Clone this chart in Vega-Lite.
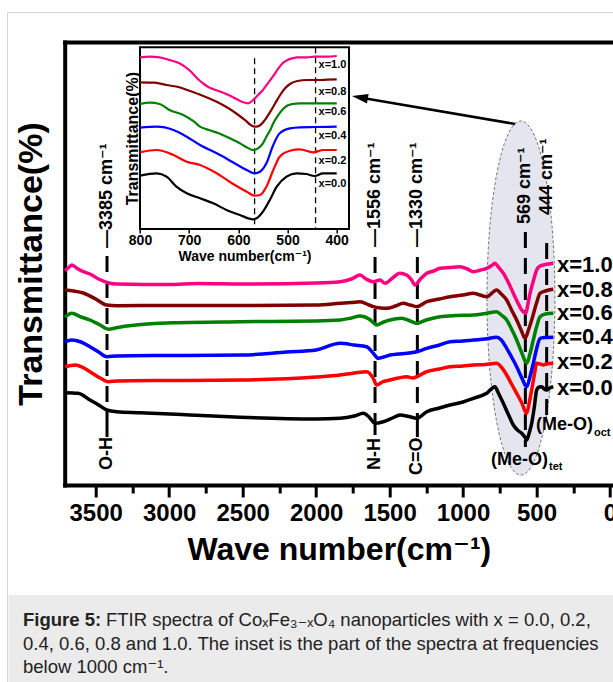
{
  "$schema": "https://vega.github.io/schema/vega-lite/v6.json",
  "width": 548.3,
  "height": 443,
  "autosize": {"type": "none"},
  "padding": {"left": 64.7, "top": 42, "right": 0, "bottom": 197},
  "background": "white",
  "config": {
    "view": {"stroke": null},
    "axis": {"grid": false, "labelFont": "Liberation Sans", "titleFont": "Liberation Sans", "labelColor": "black", "titleColor": "black", "tickColor": "black", "domainColor": "black"},
    "text": {"font": "Liberation Sans"}
  },
  "datasets": {
    "main": [
      {"s":"x=0.0","w":3709,"t":92.3},{"s":"x=0.0","w":3620,"t":91.7},{"s":"x=0.0","w":3539,"t":85},{"s":"x=0.0","w":3480,"t":80},{"s":"x=0.0","w":3425,"t":75},{"s":"x=0.0","w":3357,"t":73.3},{"s":"x=0.0","w":3199,"t":72.3},{"s":"x=0.0","w":2858,"t":70},{"s":"x=0.0","w":2518,"t":67.7},{"s":"x=0.0","w":2000,"t":66},{"s":"x=0.0","w":1837,"t":66.7},{"s":"x=0.0","w":1740,"t":69},{"s":"x=0.0","w":1679,"t":71.7},{"s":"x=0.0","w":1640,"t":68},{"s":"x=0.0","w":1599,"t":61.7},{"s":"x=0.0","w":1543,"t":63.3},{"s":"x=0.0","w":1480,"t":67},{"s":"x=0.0","w":1429,"t":70},{"s":"x=0.0","w":1370,"t":68.5},{"s":"x=0.0","w":1315,"t":66.7},{"s":"x=0.0","w":1247,"t":73.3},{"s":"x=0.0","w":1160,"t":77},{"s":"x=0.0","w":1089,"t":80},{"s":"x=0.0","w":1000,"t":83},{"s":"x=0.0","w":930,"t":86.7},{"s":"x=0.0","w":839,"t":91.7},{"s":"x=0.0","w":783,"t":98.3},{"s":"x=0.0","w":760,"t":92},{"s":"x=0.0","w":726,"t":81.7},{"s":"x=0.0","w":690,"t":70},{"s":"x=0.0","w":658,"t":60},{"s":"x=0.0","w":630,"t":55},{"s":"x=0.0","w":601,"t":51.7},{"s":"x=0.0","w":580,"t":48},{"s":"x=0.0","w":567,"t":45},{"s":"x=0.0","w":550,"t":52},{"s":"x=0.0","w":533,"t":61.7},{"s":"x=0.0","w":515,"t":78},{"s":"x=0.0","w":499,"t":95},{"s":"x=0.0","w":482,"t":98},{"s":"x=0.0","w":465,"t":98.3},{"s":"x=0.0","w":448,"t":96},{"s":"x=0.0","w":431,"t":95},{"s":"x=0.0","w":410,"t":97},{"s":"x=0.0","w":386,"t":98.3},
      {"s":"x=0.2","w":3709,"t":118.3},{"s":"x=0.2","w":3640,"t":120},{"s":"x=0.2","w":3580,"t":117},{"s":"x=0.2","w":3539,"t":113.3},{"s":"x=0.2","w":3470,"t":107},{"s":"x=0.2","w":3414,"t":103.3},{"s":"x=0.2","w":3357,"t":104},{"s":"x=0.2","w":3000,"t":104.5},{"s":"x=0.2","w":2500,"t":105},{"s":"x=0.2","w":2000,"t":108},{"s":"x=0.2","w":1837,"t":110},{"s":"x=0.2","w":1740,"t":112},{"s":"x=0.2","w":1656,"t":113.3},{"s":"x=0.2","w":1611,"t":106.7},{"s":"x=0.2","w":1588,"t":100},{"s":"x=0.2","w":1550,"t":103},{"s":"x=0.2","w":1497,"t":105},{"s":"x=0.2","w":1440,"t":107},{"s":"x=0.2","w":1384,"t":108.3},{"s":"x=0.2","w":1340,"t":107},{"s":"x=0.2","w":1315,"t":108.3},{"s":"x=0.2","w":1280,"t":111},{"s":"x=0.2","w":1247,"t":113.3},{"s":"x=0.2","w":1160,"t":116},{"s":"x=0.2","w":1089,"t":118.3},{"s":"x=0.2","w":1000,"t":119},{"s":"x=0.2","w":930,"t":120},{"s":"x=0.2","w":850,"t":120.5},{"s":"x=0.2","w":771,"t":121.7},{"s":"x=0.2","w":740,"t":118},{"s":"x=0.2","w":703,"t":110},{"s":"x=0.2","w":670,"t":101},{"s":"x=0.2","w":635,"t":91.7},{"s":"x=0.2","w":600,"t":82},{"s":"x=0.2","w":567,"t":71.7},{"s":"x=0.2","w":550,"t":82},{"s":"x=0.2","w":533,"t":95},{"s":"x=0.2","w":515,"t":110},{"s":"x=0.2","w":499,"t":121.7},{"s":"x=0.2","w":475,"t":121},{"s":"x=0.2","w":454,"t":120},{"s":"x=0.2","w":430,"t":121},{"s":"x=0.2","w":386,"t":121.7},
      {"s":"x=0.4","w":3709,"t":143.3},{"s":"x=0.4","w":3663,"t":145},{"s":"x=0.4","w":3600,"t":143},{"s":"x=0.4","w":3539,"t":138.3},{"s":"x=0.4","w":3480,"t":133},{"s":"x=0.4","w":3425,"t":128.3},{"s":"x=0.4","w":3357,"t":129},{"s":"x=0.4","w":3000,"t":129.5},{"s":"x=0.4","w":2500,"t":130},{"s":"x=0.4","w":2200,"t":133},{"s":"x=0.4","w":2000,"t":135},{"s":"x=0.4","w":1837,"t":141.7},{"s":"x=0.4","w":1740,"t":140},{"s":"x=0.4","w":1656,"t":138.3},{"s":"x=0.4","w":1611,"t":131.7},{"s":"x=0.4","w":1577,"t":126.7},{"s":"x=0.4","w":1540,"t":128},{"s":"x=0.4","w":1497,"t":130},{"s":"x=0.4","w":1440,"t":131},{"s":"x=0.4","w":1384,"t":131.7},{"s":"x=0.4","w":1315,"t":133.3},{"s":"x=0.4","w":1247,"t":136.7},{"s":"x=0.4","w":1160,"t":140},{"s":"x=0.4","w":1089,"t":143.3},{"s":"x=0.4","w":1000,"t":144},{"s":"x=0.4","w":930,"t":145},{"s":"x=0.4","w":850,"t":146},{"s":"x=0.4","w":771,"t":147.7},{"s":"x=0.4","w":740,"t":145},{"s":"x=0.4","w":703,"t":136.7},{"s":"x=0.4","w":670,"t":128},{"s":"x=0.4","w":635,"t":118.3},{"s":"x=0.4","w":600,"t":107},{"s":"x=0.4","w":567,"t":98.3},{"s":"x=0.4","w":545,"t":108},{"s":"x=0.4","w":522,"t":121.7},{"s":"x=0.4","w":500,"t":136},{"s":"x=0.4","w":476,"t":146.7},{"s":"x=0.4","w":440,"t":147.5},{"s":"x=0.4","w":386,"t":147.7},
      {"s":"x=0.6","w":3709,"t":167.7},{"s":"x=0.6","w":3663,"t":171.7},{"s":"x=0.6","w":3600,"t":168},{"s":"x=0.6","w":3539,"t":165},{"s":"x=0.6","w":3470,"t":160},{"s":"x=0.6","w":3414,"t":155.7},{"s":"x=0.6","w":3350,"t":157.5},{"s":"x=0.6","w":3289,"t":159},{"s":"x=0.6","w":2972,"t":162.3},{"s":"x=0.6","w":2518,"t":163.3},{"s":"x=0.6","w":2000,"t":164},{"s":"x=0.6","w":1837,"t":165},{"s":"x=0.6","w":1760,"t":167},{"s":"x=0.6","w":1701,"t":169},{"s":"x=0.6","w":1640,"t":166},{"s":"x=0.6","w":1611,"t":162.3},{"s":"x=0.6","w":1588,"t":160},{"s":"x=0.6","w":1540,"t":163},{"s":"x=0.6","w":1497,"t":165},{"s":"x=0.6","w":1418,"t":166.7},{"s":"x=0.6","w":1360,"t":164},{"s":"x=0.6","w":1315,"t":161.7},{"s":"x=0.6","w":1250,"t":165},{"s":"x=0.6","w":1157,"t":168.3},{"s":"x=0.6","w":1050,"t":169.5},{"s":"x=0.6","w":930,"t":170},{"s":"x=0.6","w":850,"t":171.5},{"s":"x=0.6","w":771,"t":173.3},{"s":"x=0.6","w":740,"t":170},{"s":"x=0.6","w":703,"t":165},{"s":"x=0.6","w":670,"t":156},{"s":"x=0.6","w":635,"t":145},{"s":"x=0.6","w":600,"t":132},{"s":"x=0.6","w":567,"t":121.7},{"s":"x=0.6","w":545,"t":131},{"s":"x=0.6","w":522,"t":145},{"s":"x=0.6","w":500,"t":158},{"s":"x=0.6","w":476,"t":168.3},{"s":"x=0.6","w":440,"t":171},{"s":"x=0.6","w":386,"t":171.7},
      {"s":"x=0.8","w":3709,"t":195},{"s":"x=0.8","w":3650,"t":194},{"s":"x=0.8","w":3584,"t":192},{"s":"x=0.8","w":3500,"t":186},{"s":"x=0.8","w":3425,"t":180},{"s":"x=0.8","w":3357,"t":179.3},{"s":"x=0.8","w":3000,"t":179.5},{"s":"x=0.8","w":2500,"t":179.5},{"s":"x=0.8","w":2000,"t":180},{"s":"x=0.8","w":1837,"t":181.7},{"s":"x=0.8","w":1760,"t":182.5},{"s":"x=0.8","w":1701,"t":183.3},{"s":"x=0.8","w":1640,"t":180},{"s":"x=0.8","w":1611,"t":178.3},{"s":"x=0.8","w":1560,"t":177},{"s":"x=0.8","w":1520,"t":176.7},{"s":"x=0.8","w":1460,"t":179},{"s":"x=0.8","w":1407,"t":181.7},{"s":"x=0.8","w":1360,"t":180},{"s":"x=0.8","w":1315,"t":178.3},{"s":"x=0.8","w":1247,"t":183.3},{"s":"x=0.8","w":1160,"t":186},{"s":"x=0.8","w":1089,"t":188.3},{"s":"x=0.8","w":1000,"t":190},{"s":"x=0.8","w":930,"t":191.7},{"s":"x=0.8","w":839,"t":188.3},{"s":"x=0.8","w":771,"t":195},{"s":"x=0.8","w":740,"t":191},{"s":"x=0.8","w":703,"t":185},{"s":"x=0.8","w":670,"t":175},{"s":"x=0.8","w":635,"t":165},{"s":"x=0.8","w":605,"t":155},{"s":"x=0.8","w":578,"t":146.7},{"s":"x=0.8","w":555,"t":155},{"s":"x=0.8","w":533,"t":165},{"s":"x=0.8","w":500,"t":182},{"s":"x=0.8","w":476,"t":191.7},{"s":"x=0.8","w":440,"t":194},{"s":"x=0.8","w":386,"t":195.7},
      {"s":"x=1.0","w":3709,"t":214.3},{"s":"x=1.0","w":3680,"t":218},{"s":"x=1.0","w":3663,"t":220},{"s":"x=1.0","w":3630,"t":217},{"s":"x=1.0","w":3584,"t":213.3},{"s":"x=1.0","w":3539,"t":211},{"s":"x=1.0","w":3480,"t":206},{"s":"x=1.0","w":3403,"t":201.7},{"s":"x=1.0","w":3357,"t":201},{"s":"x=1.0","w":3000,"t":200.5},{"s":"x=1.0","w":2800,"t":201.5},{"s":"x=1.0","w":2500,"t":201},{"s":"x=1.0","w":2000,"t":202},{"s":"x=1.0","w":1837,"t":203.3},{"s":"x=1.0","w":1760,"t":206},{"s":"x=1.0","w":1701,"t":210},{"s":"x=1.0","w":1660,"t":206},{"s":"x=1.0","w":1611,"t":203.3},{"s":"x=1.0","w":1565,"t":205},{"s":"x=1.0","w":1531,"t":201.7},{"s":"x=1.0","w":1480,"t":207},{"s":"x=1.0","w":1429,"t":211.7},{"s":"x=1.0","w":1384,"t":210},{"s":"x=1.0","w":1350,"t":205},{"s":"x=1.0","w":1327,"t":200},{"s":"x=1.0","w":1290,"t":206},{"s":"x=1.0","w":1247,"t":211.7},{"s":"x=1.0","w":1200,"t":214},{"s":"x=1.0","w":1157,"t":216.7},{"s":"x=1.0","w":1090,"t":217.5},{"s":"x=1.0","w":1021,"t":218.3},{"s":"x=1.0","w":970,"t":216},{"s":"x=1.0","w":930,"t":213.3},{"s":"x=1.0","w":880,"t":215},{"s":"x=1.0","w":839,"t":216.7},{"s":"x=1.0","w":800,"t":220},{"s":"x=1.0","w":783,"t":221.7},{"s":"x=1.0","w":760,"t":218},{"s":"x=1.0","w":726,"t":211.7},{"s":"x=1.0","w":690,"t":202},{"s":"x=1.0","w":658,"t":191.7},{"s":"x=1.0","w":630,"t":183},{"s":"x=1.0","w":601,"t":175},{"s":"x=1.0","w":572,"t":171.7},{"s":"x=1.0","w":560,"t":180},{"s":"x=1.0","w":544,"t":191.7},{"s":"x=1.0","w":520,"t":205},{"s":"x=1.0","w":499,"t":215},{"s":"x=1.0","w":476,"t":219},{"s":"x=1.0","w":454,"t":220},{"s":"x=1.0","w":420,"t":221},{"s":"x=1.0","w":386,"t":221.7}
    ],
    "inset": [
      {"s":"x=0.0","w":800,"v":53.3},{"s":"x=0.0","w":766,"v":55.7},{"s":"x=0.0","w":746,"v":52.3},{"s":"x=0.0","w":726,"v":42.3},{"s":"x=0.0","w":705,"v":35.7},{"s":"x=0.0","w":678,"v":30.7},{"s":"x=0.0","w":651,"v":25.7},{"s":"x=0.0","w":624,"v":19},{"s":"x=0.0","w":597,"v":14},{"s":"x=0.0","w":570,"v":9.7},{"s":"x=0.0","w":563,"v":10.7},{"s":"x=0.0","w":550,"v":17.3},{"s":"x=0.0","w":536,"v":29},{"s":"x=0.0","w":522,"v":42.3},{"s":"x=0.0","w":502,"v":52.3},{"s":"x=0.0","w":482,"v":55.7},{"s":"x=0.0","w":462,"v":55},{"s":"x=0.0","w":445,"v":53},{"s":"x=0.0","w":428,"v":55.7},{"s":"x=0.0","w":400,"v":55.7},
      {"s":"x=0.2","w":800,"v":76.7},{"s":"x=0.2","w":766,"v":79},{"s":"x=0.2","w":732,"v":74},{"s":"x=0.2","w":705,"v":67.3},{"s":"x=0.2","w":678,"v":64},{"s":"x=0.2","w":644,"v":55.7},{"s":"x=0.2","w":613,"v":45.7},{"s":"x=0.2","w":583,"v":37.3},{"s":"x=0.2","w":567,"v":33.3},{"s":"x=0.2","w":556,"v":34},{"s":"x=0.2","w":543,"v":42.3},{"s":"x=0.2","w":529,"v":59},{"s":"x=0.2","w":516,"v":72.3},{"s":"x=0.2","w":495,"v":78.3},{"s":"x=0.2","w":475,"v":79.7},{"s":"x=0.2","w":448,"v":76.7},{"s":"x=0.2","w":427,"v":79},{"s":"x=0.2","w":400,"v":79},
      {"s":"x=0.4","w":800,"v":101.3},{"s":"x=0.4","w":766,"v":102.3},{"s":"x=0.4","w":732,"v":99},{"s":"x=0.4","w":705,"v":92.3},{"s":"x=0.4","w":678,"v":84},{"s":"x=0.4","w":644,"v":75.7},{"s":"x=0.4","w":613,"v":67.3},{"s":"x=0.4","w":583,"v":59},{"s":"x=0.4","w":567,"v":55.7},{"s":"x=0.4","w":556,"v":57.3},{"s":"x=0.4","w":543,"v":65.7},{"s":"x=0.4","w":529,"v":84},{"s":"x=0.4","w":516,"v":95.7},{"s":"x=0.4","w":495,"v":100.7},{"s":"x=0.4","w":475,"v":101.7},{"s":"x=0.4","w":445,"v":102},{"s":"x=0.4","w":400,"v":102.3},
      {"s":"x=0.6","w":800,"v":125},{"s":"x=0.6","w":780,"v":126.3},{"s":"x=0.6","w":760,"v":125},{"s":"x=0.6","w":740,"v":119},{"s":"x=0.6","w":712,"v":114},{"s":"x=0.6","w":690,"v":107.3},{"s":"x=0.6","w":678,"v":102.3},{"s":"x=0.6","w":660,"v":99},{"s":"x=0.6","w":640,"v":95.7},{"s":"x=0.6","w":624,"v":92.3},{"s":"x=0.6","w":610,"v":89},{"s":"x=0.6","w":597,"v":85.7},{"s":"x=0.6","w":585,"v":82.3},{"s":"x=0.6","w":570,"v":79},{"s":"x=0.6","w":560,"v":80.7},{"s":"x=0.6","w":550,"v":85.7},{"s":"x=0.6","w":543,"v":92.3},{"s":"x=0.6","w":535,"v":99},{"s":"x=0.6","w":529,"v":105.7},{"s":"x=0.6","w":520,"v":113},{"s":"x=0.6","w":510,"v":119.5},{"s":"x=0.6","w":500,"v":123.5},{"s":"x=0.6","w":490,"v":125},{"s":"x=0.6","w":475,"v":125.7},{"s":"x=0.6","w":440,"v":125.7},{"s":"x=0.6","w":400,"v":125.7},
      {"s":"x=0.8","w":800,"v":146.7},{"s":"x=0.8","w":770,"v":146.3},{"s":"x=0.8","w":746,"v":144},{"s":"x=0.8","w":720,"v":141.7},{"s":"x=0.8","w":700,"v":138.3},{"s":"x=0.8","w":680,"v":134.7},{"s":"x=0.8","w":660,"v":130.7},{"s":"x=0.8","w":640,"v":126.3},{"s":"x=0.8","w":620,"v":120.7},{"s":"x=0.8","w":600,"v":114},{"s":"x=0.8","w":585,"v":108.3},{"s":"x=0.8","w":575,"v":104},{"s":"x=0.8","w":565,"v":102.3},{"s":"x=0.8","w":555,"v":104},{"s":"x=0.8","w":545,"v":109.7},{"s":"x=0.8","w":535,"v":117.3},{"s":"x=0.8","w":525,"v":125.7},{"s":"x=0.8","w":515,"v":134},{"s":"x=0.8","w":505,"v":140.7},{"s":"x=0.8","w":495,"v":145},{"s":"x=0.8","w":480,"v":148},{"s":"x=0.8","w":460,"v":149},{"s":"x=0.8","w":440,"v":149},{"s":"x=0.8","w":420,"v":149.3},{"s":"x=0.8","w":400,"v":149.7},
      {"s":"x=1.0","w":800,"v":171.7},{"s":"x=1.0","w":780,"v":172.3},{"s":"x=1.0","w":760,"v":171.7},{"s":"x=1.0","w":740,"v":169},{"s":"x=1.0","w":720,"v":165.7},{"s":"x=1.0","w":700,"v":159},{"s":"x=1.0","w":690,"v":154},{"s":"x=1.0","w":680,"v":149},{"s":"x=1.0","w":670,"v":145},{"s":"x=1.0","w":660,"v":141.7},{"s":"x=1.0","w":650,"v":139.7},{"s":"x=1.0","w":640,"v":138},{"s":"x=1.0","w":620,"v":134},{"s":"x=1.0","w":600,"v":129},{"s":"x=1.0","w":590,"v":126.7},{"s":"x=1.0","w":580,"v":125.7},{"s":"x=1.0","w":570,"v":129},{"s":"x=1.0","w":560,"v":134},{"s":"x=1.0","w":550,"v":139},{"s":"x=1.0","w":540,"v":145.7},{"s":"x=1.0","w":530,"v":152.3},{"s":"x=1.0","w":520,"v":159.7},{"s":"x=1.0","w":510,"v":165.7},{"s":"x=1.0","w":500,"v":169},{"s":"x=1.0","w":490,"v":170.7},{"s":"x=1.0","w":480,"v":171.7},{"s":"x=1.0","w":460,"v":171.7},{"s":"x=1.0","w":445,"v":172.3},{"s":"x=1.0","w":420,"v":172.3},{"s":"x=1.0","w":400,"v":173}
    ],
    "dashedMain": [
      {"w":3423,"t1":229,"t2":75},{"w":1599,"t1":228,"t2":62},{"w":1311,"t1":228,"t2":67},{"w":576,"t1":253,"t2":38},{"w":431,"t1":242,"t2":65}
    ],
    "solidMain": [
      {"w":3423,"t1":75,"t2":48},{"w":1599,"t1":62,"t2":50},{"w":1311,"t1":67,"t2":48}
    ],
    "rotLabels": [
      {"w":3423,"t":237,"label":"—3385 cm⁻¹"},{"w":1599,"t":238,"label":"—1556 cm⁻¹"},{"w":1311,"t":238,"label":"—1330 cm⁻¹"},{"w":576,"t":261,"label":"569 cm⁻¹"},{"w":431,"t":270,"label":"444 cm⁻¹"},{"w":3423,"t":15,"label":"O-H"},{"w":1599,"t":15,"label":"N-H"},{"w":1311,"t":10,"label":"C=O"}
    ],
    "seriesLabels": [
      {"w":361,"t":220,"label":"x=1.0"},{"w":361,"t":195,"label":"x=0.8"},{"w":361,"t":172,"label":"x=0.6"},{"w":361,"t":148,"label":"x=0.4"},{"w":361,"t":123,"label":"x=0.2"},{"w":361,"t":97,"label":"x=0.0"}
    ],
    "bondLabels": [
      {"w":422,"t":25,"label":"(Me-O)"},{"w":116,"t":60,"label":"(Me-O)"}
    ],
    "bondSubs": [
      {"w":415,"t":18,"label":"tet"},{"w":109,"t":52,"label":"oct"}
    ],
    "insetRules": [
      {"w":567,"v1":170.7,"v2":0},{"w":443,"v1":181.7,"v2":0}
    ],
    "insetLabels": [
      {"w":437,"v":164,"label":"x=1.0"},{"w":437,"v":137.3,"label":"x=0.8"},{"w":437,"v":117.3,"label":"x=0.6"},{"w":437,"v":93,"label":"x=0.4"},{"w":437,"v":68.3,"label":"x=0.2"},{"w":437,"v":45,"label":"x=0.0"}
    ]
  },
  "layer": [
    {
      "layer": [
        {
          "data": {"values": [{}]},
          "mark": {"type": "rect", "filled": false, "stroke": "#d4d4d4", "strokeWidth": 1},
          "encoding": {
            "x": {"datum": 4100, "type": "quantitative", "scale": {"domain": [-20.4, 3711], "reverse": true}, "axis": null},
            "x2": {"datum": -600},
            "y": {"datum": 472.5, "type": "quantitative", "scale": {"domain": [0, 443]}},
            "y2": {"datum": -450}
          }
        },
        {
          "data": {"values": [{}]},
          "mark": {"type": "rect", "fill": "#ebebeb", "stroke": null},
          "encoding": {
            "x": {"datum": 4093.5, "type": "quantitative", "scale": {"domain": [-20.4, 3711], "reverse": true}, "axis": null},
            "x2": {"datum": -600},
            "y": {"datum": -110, "type": "quantitative", "scale": {"domain": [0, 443]}},
            "y2": {"datum": -450}
          }
        },
        {
          "data": {"values": [{}]},
          "mark": {"type": "text", "text": "Figure 5:", "font": "Liberation Sans", "fontWeight": "bold", "fontSize": 18.5, "align": "left", "baseline": "middle", "color": "#222222"},
          "encoding": {
            "x": {"datum": 3994.8, "type": "quantitative", "scale": {"domain": [-20.4, 3711], "reverse": true}, "axis": null},
            "y": {"datum": -135, "type": "quantitative", "scale": {"domain": [0, 443]}}
          }
        },
        {
          "data": {"values": [{}]},
          "mark": {"type": "text", "text": "FTIR spectra of CoₓFe₃₋ₓO₄ nanoparticles with x = 0.0, 0.2,", "font": "Liberation Sans, DejaVu Sans", "fontSize": 18.5, "align": "left", "baseline": "middle", "dx": 83, "color": "#222222"},
          "encoding": {
            "x": {"datum": 3994.8, "type": "quantitative", "scale": {"domain": [-20.4, 3711], "reverse": true}, "axis": null},
            "y": {"datum": -135, "type": "quantitative", "scale": {"domain": [0, 443]}}
          }
        },
        {
          "data": {"values": [{}]},
          "mark": {"type": "text", "text": "0.4, 0.6, 0.8 and 1.0. The inset is the part of the spectra at frequencies", "font": "Liberation Sans, DejaVu Sans", "fontSize": 18.5, "align": "left", "baseline": "middle", "color": "#222222"},
          "encoding": {
            "x": {"datum": 3994.8, "type": "quantitative", "scale": {"domain": [-20.4, 3711], "reverse": true}, "axis": null},
            "y": {"datum": -159, "type": "quantitative", "scale": {"domain": [0, 443]}}
          }
        },
        {
          "data": {"values": [{}]},
          "mark": {"type": "text", "text": "below 1000 cm⁻¹.", "font": "Liberation Sans, DejaVu Sans", "fontSize": 18.5, "align": "left", "baseline": "middle", "color": "#222222"},
          "encoding": {
            "x": {"datum": 3994.8, "type": "quantitative", "scale": {"domain": [-20.4, 3711], "reverse": true}, "axis": null},
            "y": {"datum": -182, "type": "quantitative", "scale": {"domain": [0, 443]}}
          }
        },
        {
          "data": {"values": [{}]},
          "mark": {"type": "point", "shape": "M -0.192 0 A 0.192 1 0 1 0 0.192 0 A 0.192 1 0 1 0 -0.192 0 Z", "size": 125316, "filled": true, "fill": "#e4e5ee", "fillOpacity": 1, "opacity": 1, "stroke": "#555555", "strokeWidth": 0.8, "strokeDash": [3, 2]},
          "encoding": {
            "x": {"datum": 606, "type": "quantitative", "scale": {"domain": [-20.4, 3711], "reverse": true}, "axis": {"orient": "top", "labels": false, "ticks": false, "title": null, "domain": true, "domainWidth": 4, "domainColor": "black", "domainCap": "square", "grid": false}},
            "y": {"datum": 187, "type": "quantitative", "scale": {"domain": [0, 443]}}
          }
        },
        {
          "data": {"values": [{}]},
          "mark": {"type": "rule", "color": "black", "strokeWidth": 2.5},
          "encoding": {
            "x": {"datum": 646.5, "type": "quantitative", "scale": {"domain": [-20.4, 3711], "reverse": true}, "axis": {"orient": "bottom", "values": [3250, 2750, 2250, 1750, 1250, 750, 250], "labels": false, "domain": false, "ticks": true, "tickSize": 8, "tickWidth": 3, "tickColor": "black", "title": null, "grid": false}},
            "x2": {"datum": 1702},
            "y": {"datum": 361, "type": "quantitative", "scale": {"domain": [0, 443]}},
            "y2": {"datum": 387.6}
          }
        },
        {
          "data": {"values": [{}]},
          "mark": {"type": "point", "shape": "M -1 0 L 1 -0.6 L 1 0.6 Z", "size": 256, "filled": true, "color": "black", "opacity": 1, "angle": 9.7},
          "encoding": {
            "x": {"datum": 1702, "type": "quantitative", "scale": {"domain": [-20.4, 3711], "reverse": true}, "axis": null},
            "y": {"datum": 387.6, "type": "quantitative", "scale": {"domain": [0, 443]}}
          }
        },
        {
          "data": {"name": "dashedMain"},
          "mark": {"type": "rule", "color": "black", "strokeWidth": 3, "strokeDash": [16, 10]},
          "encoding": {
            "x": {"field": "w", "type": "quantitative", "scale": {"domain": [-20.4, 3711], "reverse": true}, "axis": null},
            "y": {"field": "t1", "type": "quantitative", "scale": {"domain": [0, 443]}},
            "y2": {"field": "t2"}
          }
        },
        {
          "data": {"name": "solidMain"},
          "mark": {"type": "rule", "color": "black", "strokeWidth": 3},
          "encoding": {
            "x": {"field": "w", "type": "quantitative", "scale": {"domain": [-20.4, 3711], "reverse": true}, "axis": null},
            "y": {"field": "t1", "type": "quantitative", "scale": {"domain": [0, 443]}},
            "y2": {"field": "t2"}
          }
        },
        {
          "data": {"name": "main"},
          "mark": {"type": "line", "strokeWidth": 3.5, "interpolate": "monotone"},
          "encoding": {
            "x": {"field": "w", "type": "quantitative", "scale": {"domain": [-20.4, 3711], "reverse": true},
              "axis": {"orient": "bottom", "values": [3500, 3000, 2500, 2000, 1500, 1000, 500, 0], "format": "d", "labelFont": "Liberation Sans", "labelFontWeight": "bold", "labelFontSize": 24, "labelColor": "black", "labelPadding": 4, "labelOverlap": false, "labelFlush": false, "tickSize": 12, "tickWidth": 3, "tickColor": "black", "domain": true, "domainWidth": 4, "domainColor": "black", "domainCap": "square", "title": "Wave number(cm⁻¹)", "titleFont": "Liberation Sans, DejaVu Sans", "titleFontSize": 32, "titleFontWeight": "bold", "titleColor": "black", "titlePadding": 9, "grid": false}},
            "y": {"field": "t", "type": "quantitative", "scale": {"domain": [0, 443]},
              "axis": {"orient": "left", "ticks": false, "labels": false, "domain": true, "domainWidth": 4, "domainColor": "black", "domainCap": "square", "grid": false, "title": "Transmittance(%)", "titleFont": "Liberation Sans", "titleFontSize": 34, "titleFontWeight": "bold", "titleColor": "black", "titlePadding": 16}},
            "color": {"field": "s", "type": "nominal", "scale": {"domain": ["x=0.0", "x=0.2", "x=0.4", "x=0.6", "x=0.8", "x=1.0"], "range": ["#000000", "#ff0000", "#0000ff", "#008000", "#800000", "#ff0080"]}, "legend": null}
          }
        },
        {
          "data": {"name": "rotLabels"},
          "mark": {"type": "text", "angle": 270, "align": "left", "baseline": "middle", "font": "Liberation Sans, DejaVu Sans", "fontWeight": "bold", "fontSize": 18, "color": "black"},
          "encoding": {
            "x": {"field": "w", "type": "quantitative", "scale": {"domain": [-20.4, 3711], "reverse": true}, "axis": null},
            "y": {"field": "t", "type": "quantitative", "scale": {"domain": [0, 443]}},
            "text": {"field": "label"}
          }
        },
        {
          "data": {"name": "seriesLabels"},
          "mark": {"type": "text", "align": "left", "baseline": "middle", "font": "Liberation Sans", "fontWeight": "bold", "fontSize": 22, "color": "black"},
          "encoding": {
            "x": {"field": "w", "type": "quantitative", "scale": {"domain": [-20.4, 3711], "reverse": true}, "axis": null},
            "y": {"field": "t", "type": "quantitative", "scale": {"domain": [0, 443]}},
            "text": {"field": "label"}
          }
        },
        {
          "data": {"name": "bondLabels"},
          "mark": {"type": "text", "align": "right", "baseline": "middle", "font": "Liberation Sans", "fontWeight": "bold", "fontSize": 18, "color": "black"},
          "encoding": {
            "x": {"field": "w", "type": "quantitative", "scale": {"domain": [-20.4, 3711], "reverse": true}, "axis": null},
            "y": {"field": "t", "type": "quantitative", "scale": {"domain": [0, 443]}},
            "text": {"field": "label"}
          }
        },
        {
          "data": {"name": "bondSubs"},
          "mark": {"type": "text", "align": "left", "baseline": "middle", "font": "Liberation Sans", "fontWeight": "bold", "fontSize": 11, "color": "black"},
          "encoding": {
            "x": {"field": "w", "type": "quantitative", "scale": {"domain": [-20.4, 3711], "reverse": true}, "axis": null},
            "y": {"field": "t", "type": "quantitative", "scale": {"domain": [0, 443]}},
            "text": {"field": "label"}
          }
        }
      ],
      "resolve": {"axis": {"x": "independent"}}
    },
    {
      "layer": [
        {
          "data": {"values": [{}]},
          "mark": {"type": "rect", "filled": false, "stroke": "black", "strokeWidth": 2},
          "encoding": {
            "x": {"datum": 800, "type": "quantitative", "scale": {"domain": [375, 800], "reverse": true, "range": [75.3, 284.3]}, "axis": null},
            "x2": {"datum": 375},
            "y": {"datum": 0, "type": "quantitative", "scale": {"domain": [0, 181.7], "range": [187, 5.3]}},
            "y2": {"datum": 181.7}
          }
        },
        {
          "data": {"name": "insetRules"},
          "mark": {"type": "rule", "color": "black", "strokeWidth": 1.3, "strokeDash": [6, 4]},
          "encoding": {
            "x": {"field": "w", "type": "quantitative", "scale": {"domain": [375, 800], "reverse": true, "range": [75.3, 284.3]}, "axis": null},
            "y": {"field": "v1", "type": "quantitative", "scale": {"domain": [0, 181.7], "range": [187, 5.3]}},
            "y2": {"field": "v2"}
          }
        },
        {
          "data": {"name": "inset"},
          "mark": {"type": "line", "strokeWidth": 2.2, "interpolate": "monotone"},
          "encoding": {
            "x": {"field": "w", "type": "quantitative", "scale": {"domain": [375, 800], "reverse": true, "range": [75.3, 284.3]},
              "axis": {"orient": "bottom", "offset": -256, "values": [800, 700, 600, 500, 400], "format": "d", "labelFont": "Liberation Sans", "labelFontWeight": "bold", "labelFontSize": 14, "labelColor": "black", "labelPadding": 0, "labelOverlap": false, "labelFlush": false, "tickSize": 4, "tickWidth": 1.5, "tickColor": "black", "domain": false, "title": "Wave number(cm⁻¹)", "titleFont": "Liberation Sans, DejaVu Sans", "titleFontSize": 14, "titleFontWeight": "bold", "titleColor": "black", "titlePadding": 2, "grid": false}},
            "y": {"field": "v", "type": "quantitative", "scale": {"domain": [0, 181.7], "range": [187, 5.3]},
              "axis": {"orient": "left", "offset": -75.3, "ticks": false, "labels": false, "domain": false, "grid": false, "title": "Transmittance(%)", "titleFont": "Liberation Sans", "titleFontSize": 16, "titleFontWeight": "bold", "titleColor": "black", "titlePadding": 0}},
            "color": {"field": "s", "type": "nominal", "legend": null}
          }
        },
        {
          "data": {"name": "insetLabels"},
          "mark": {"type": "text", "align": "left", "baseline": "middle", "font": "Liberation Sans", "fontWeight": "bold", "fontSize": 11, "color": "black"},
          "encoding": {
            "x": {"field": "w", "type": "quantitative", "scale": {"domain": [375, 800], "reverse": true, "range": [75.3, 284.3]}, "axis": null},
            "y": {"field": "v", "type": "quantitative", "scale": {"domain": [0, 181.7], "range": [187, 5.3]}},
            "text": {"field": "label"}
          }
        }
      ],
      "resolve": {"axis": {"x": "independent"}}
    }
  ],
  "resolve": {"scale": {"x": "independent", "y": "independent"}}
}
